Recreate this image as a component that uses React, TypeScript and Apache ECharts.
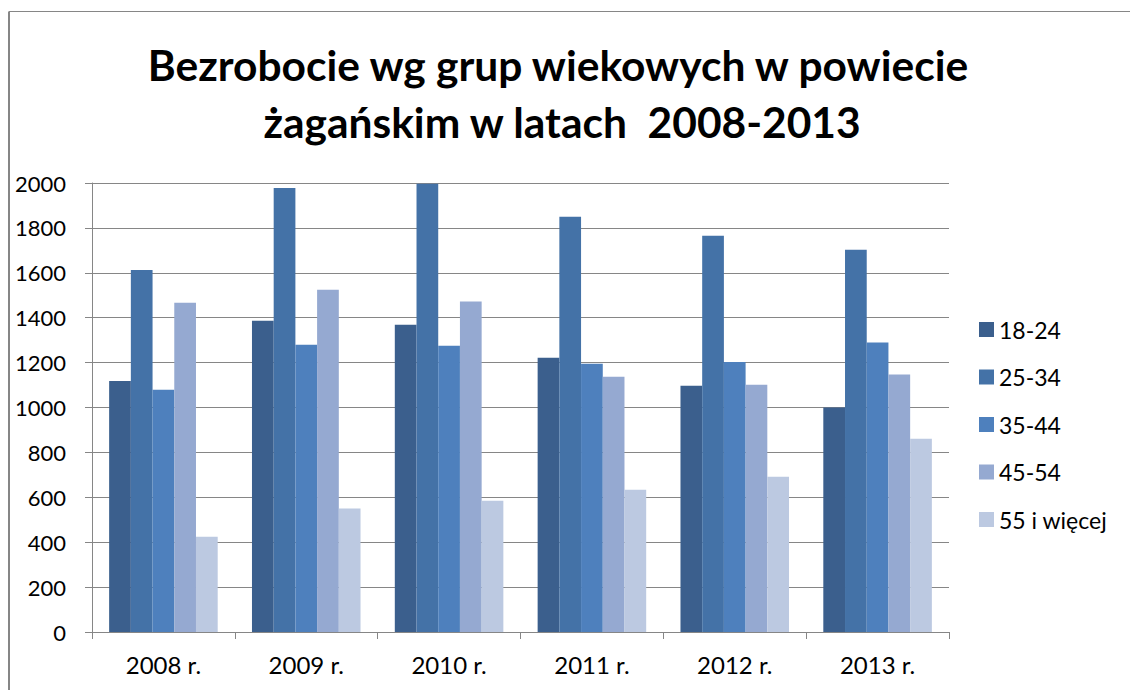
import React, { useEffect, useRef } from "react";
import * as echarts from "echarts";

const categories = ["2008 r.", "2009 r.", "2010 r.", "2011 r.", "2012 r.", "2013 r."];
const seriesNames = ["18-24", "25-34", "35-44", "45-54", "55 i więcej"];
const v18_24 = [1118, 1386, 1369, 1222, 1097, 1000];
const v25_34 = [1613, 1978, 1997, 1850, 1765, 1703];
const v35_44 = [1079, 1280, 1275, 1195, 1203, 1289];
const v45_54 = [1467, 1525, 1472, 1137, 1101, 1147];
const v55plus = [424, 550, 585, 634, 692, 861];
const seriesValues = [v18_24, v25_34, v35_44, v45_54, v55plus];
const colors = ["#3B5F8D", "#4472A7", "#4E80BD", "#95A9D1", "#BCC9E1"];
const yTicks = [0, 200, 400, 600, 800, 1000, 1200, 1400, 1600, 1800, 2000];
const titleLines = ["Bezrobocie wg grup wiekowych w powiecie", "żagańskim w latach  2008-2013"];

const FONT = "Lato, 'Open Sans', sans-serif";
const GRAY = "#868686";

export default function App() {
  const ref = useRef<HTMLDivElement>(null);
  useEffect(() => {
    if (!ref.current) return;
    const chart = echarts.init(ref.current, undefined, { renderer: "svg" });
    chart.setOption({
      animation: false,
      backgroundColor: "#ffffff",
      textStyle: { fontFamily: FONT },
      graphic: [
        { type: "line", shape: { x1: 9, y1: 11.5, x2: 1130, y2: 11.5 }, style: { stroke: GRAY, lineWidth: 1 } },
        { type: "line", shape: { x1: 9, y1: 11.5, x2: 9, y2: 690 }, style: { stroke: GRAY, lineWidth: 2 } },
        {
          type: "text",
          x: 558,
          y: 64,
          style: { text: titleLines[0], fontFamily: FONT, fontSize: 42.5, fontWeight: "bold", fill: "#000", align: "center", verticalAlign: "middle" },
        },
        {
          type: "text",
          x: 562,
          y: 121,
          style: { text: titleLines[1], fontFamily: FONT, fontSize: 42.5, fontWeight: "bold", fill: "#000", align: "center", verticalAlign: "middle" },
        },
      ],
      legend: {
        orient: "vertical",
        left: 979,
        top: 318,
        padding: 0,
        itemWidth: 15,
        itemHeight: 15,
        itemGap: 24.5,
        icon: "rect",
        textStyle: { fontFamily: FONT, fontSize: 23, color: "#000", lineHeight: 20 },
        data: seriesNames,
      },
      grid: { left: 92, right: 181, top: 183, bottom: 58 },
      xAxis: {
        type: "category",
        data: categories,
        axisLine: { show: true, lineStyle: { color: GRAY, width: 1 } },
        axisTick: { show: true, length: 7, lineStyle: { color: GRAY } },
        axisLabel: { fontFamily: FONT, fontSize: 24, color: "#000", margin: 20 },
      },
      yAxis: {
        type: "value",
        min: 0,
        max: 2000,
        interval: 200,
        axisLine: { show: true, lineStyle: { color: GRAY, width: 1 } },
        axisTick: { show: true, length: 7, lineStyle: { color: GRAY } },
        splitLine: { show: true, lineStyle: { color: GRAY, width: 1 } },
        axisLabel: {
          fontFamily: FONT,
          fontSize: 22,
          color: "#000",
          margin: 26,
          formatter: (v: number) => (yTicks.includes(v) ? String(v) : ""),
        },
      },
      series: seriesNames.map((name, i) => ({
        name,
        type: "bar",
        data: seriesValues[i],
        itemStyle: { color: colors[i] },
        barGap: "0%",
        barCategoryGap: "24%",
      })),
    });
    return () => chart.dispose();
  }, []);
  return <div ref={ref} style={{ position: "fixed", left: 0, top: 0, width: 1130, height: 690 }} />;
}
